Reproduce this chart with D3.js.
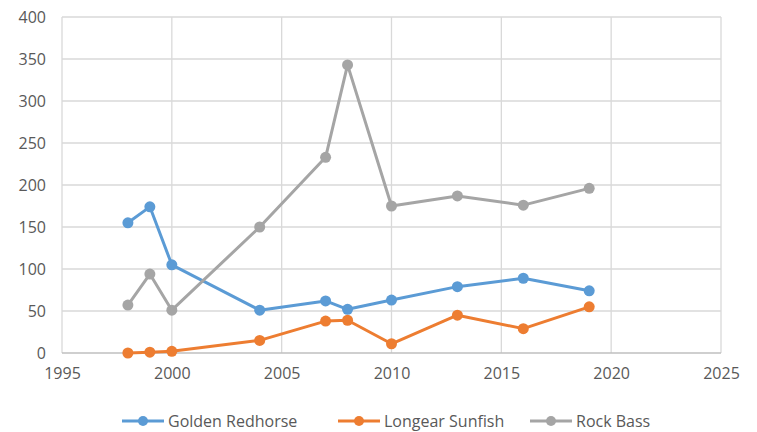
<!DOCTYPE html>
<html><head><meta charset="utf-8">
<script src="https://cdn.jsdelivr.net/npm/d3@7/dist/d3.min.js"></script>
<style>body{margin:0;background:#fff;}svg{display:block;font-family:"Open Sans",Arial,sans-serif;}</style>
</head><body><svg id="c" width="757" height="432"></svg>
<script>
const years = [1998, 1999, 2000, 2004, 2007, 2008, 2010, 2013, 2016, 2019];
const goldenRedhorse = [155, 174, 105, 51, 62, 52, 63, 79, 89, 74];
const longearSunfish = [0, 1, 2, 15, 38, 39, 11, 45, 29, 55];
const rockBass = [57, 94, 51, 150, 233, 343, 175, 187, 176, 196];
const seriesNames = ["Golden Redhorse", "Longear Sunfish", "Rock Bass"];
const xTicks = [1995, 2000, 2005, 2010, 2015, 2020, 2025];
const yTicks = [0, 50, 100, 150, 200, 250, 300, 350, 400];

const colors = ["#5b9bd5", "#ed7d31", "#a5a5a5"];
const data = [goldenRedhorse, longearSunfish, rockBass];
const svg = d3.select("#c");
const x = d3.scaleLinear().domain([1995, 2025]).range([62, 721]);
const y = d3.scaleLinear().domain([0, 400]).range([353, 17]);

svg.append("g").selectAll("line").data(yTicks.filter(d=>d>0)).join("line")
  .attr("x1", x(1995)).attr("x2", x(2025)).attr("y1", d=>y(d)).attr("y2", d=>y(d))
  .attr("stroke", "#d9d9d9").attr("stroke-width", 1.3);
svg.append("g").selectAll("line").data(xTicks).join("line")
  .attr("x1", d=>x(d)).attr("x2", d=>x(d)).attr("y1", y(0)).attr("y2", y(400))
  .attr("stroke", "#d9d9d9").attr("stroke-width", 1.3);
svg.append("line").attr("x1", x(1995)).attr("x2", x(2025)).attr("y1", y(0)).attr("y2", y(0))
  .attr("stroke", "#bfbfbf").attr("stroke-width", 1.5);

const yAxis = d3.axisLeft(y).tickValues(yTicks).tickSize(0).tickPadding(16);
const gy = svg.append("g").attr("transform", `translate(${x(1995)},0)`).call(yAxis);
gy.select(".domain").remove();
gy.selectAll("text").attr("font-size", 16).attr("fill", "#595959").style("font-family", '"Open Sans",Arial,sans-serif');
const xAxis = d3.axisBottom(x).tickValues(xTicks).tickFormat(d3.format("d")).tickSize(0).tickPadding(15);
const gx = svg.append("g").attr("transform", `translate(0,${y(0)})`).call(xAxis);
gx.select(".domain").remove();
gx.selectAll("text").attr("font-size", 16).attr("fill", "#595959").style("font-family", '"Open Sans",Arial,sans-serif');

const line = d3.line().x((d,i)=>x(years[i])).y(d=>y(d));
data.forEach((s, k) => {
  const g = svg.append("g");
  g.append("path").datum(s).attr("d", line).attr("fill", "none")
    .attr("stroke", colors[k]).attr("stroke-width", 3).attr("stroke-linejoin", "round");
  g.selectAll("circle").data(s).join("circle")
    .attr("cx", (d,i)=>x(years[i])).attr("cy", d=>y(d)).attr("r", 5.5).attr("fill", colors[k]);
});

const legX = [122, 338, 530];
const legY = 421;
seriesNames.forEach((n, k) => {
  const g = svg.append("g").attr("transform", `translate(${legX[k]},${legY})`);
  g.append("line").attr("x1", 0).attr("x2", 42).attr("y1", 0).attr("y2", 0).attr("stroke", colors[k]).attr("stroke-width", 3);
  g.append("circle").attr("cx", 21).attr("cy", 0).attr("r", 5).attr("fill", colors[k]);
  g.append("text").attr("x", 46).attr("y", 0).attr("dy", "0.35em").attr("font-size", 16).attr("fill", "#595959").text(n);
});
</script></body></html>
